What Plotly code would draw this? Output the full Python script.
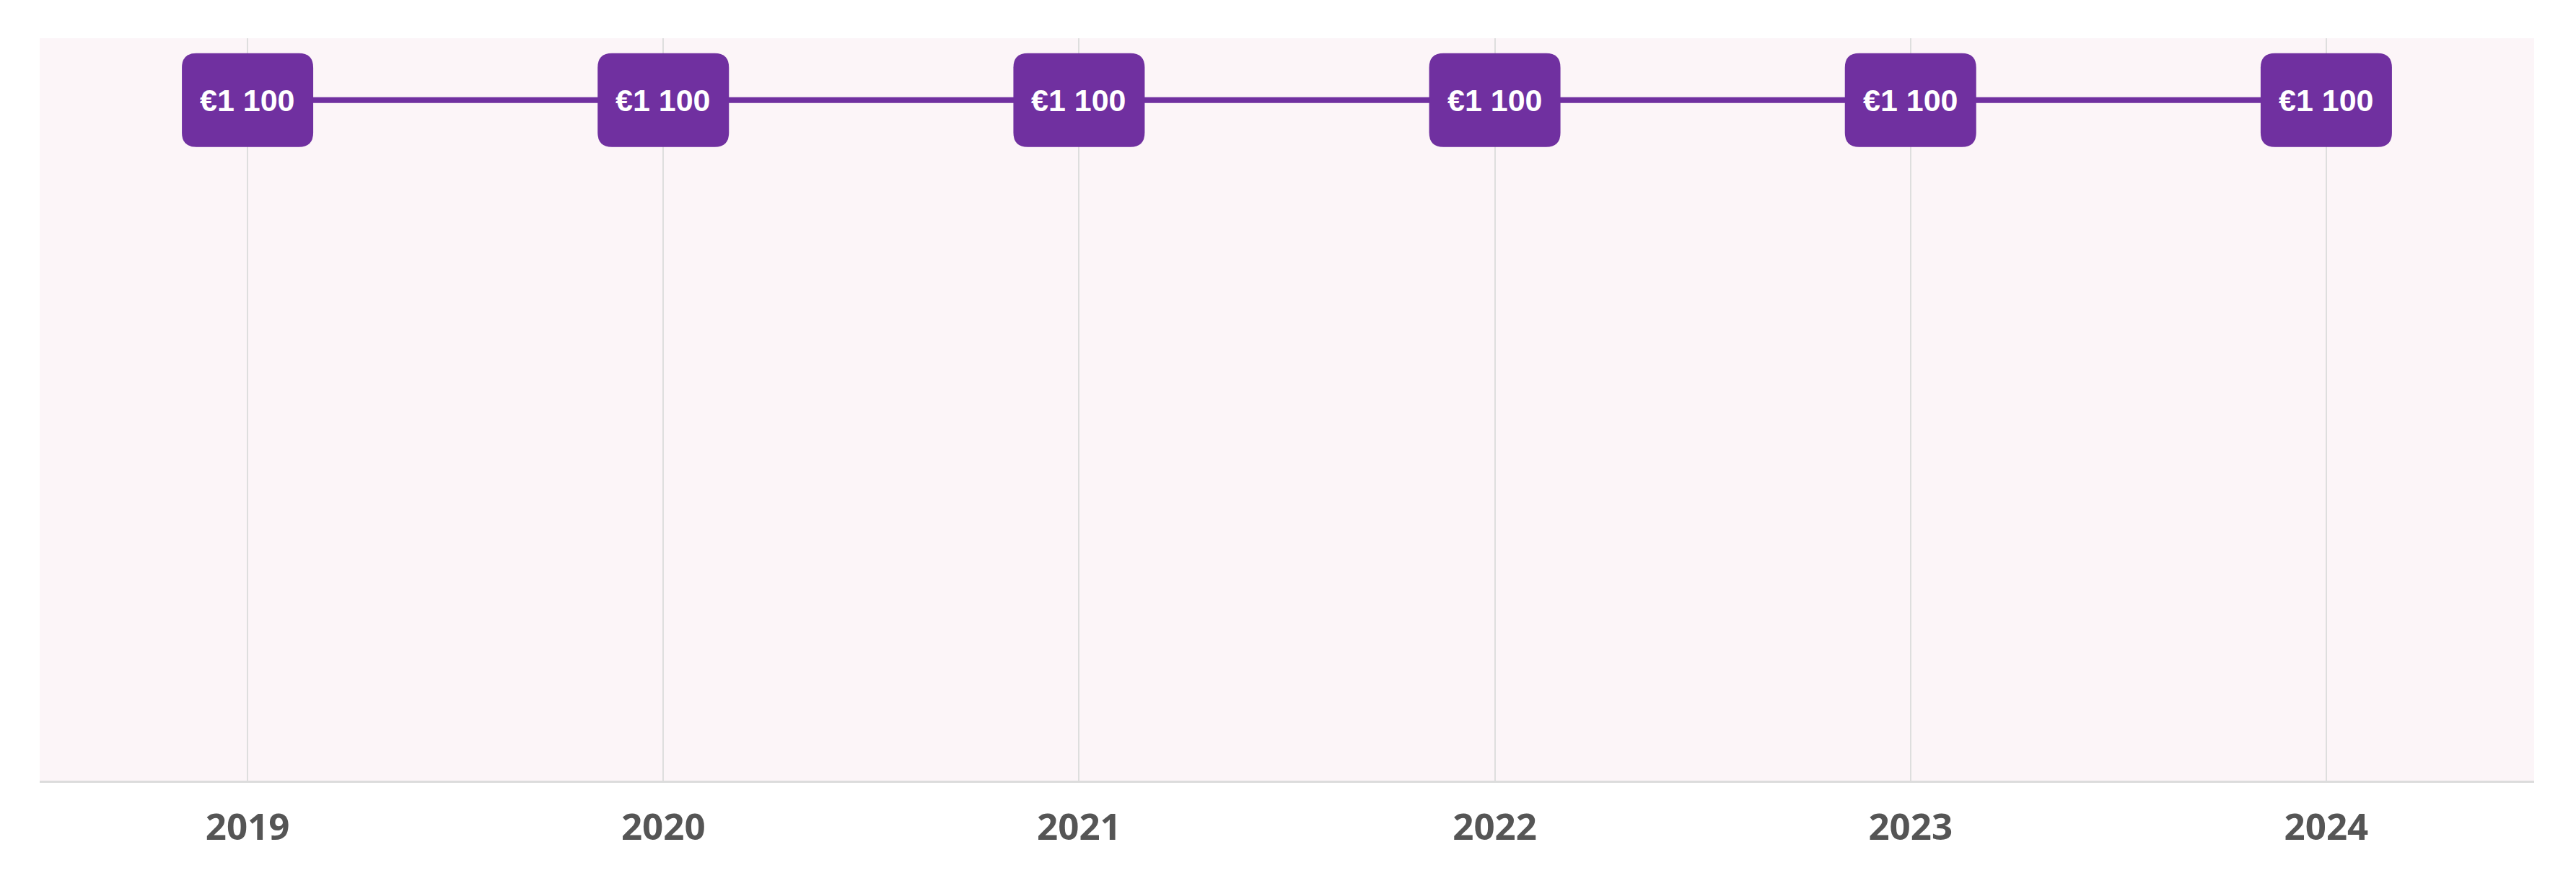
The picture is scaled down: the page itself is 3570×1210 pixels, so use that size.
import plotly.graph_objects as go

years = ["2019", "2020", "2021", "2022", "2023", "2024"]
values = [1100, 1100, 1100, 1100, 1100, 1100]
labels = ["€1 100"] * len(years)

PURPLE = "#7030a0"
BOX_W, BOX_H, R = 182, 130, 20

x_idx = list(range(len(years)))

fig = go.Figure()
fig.add_trace(
    go.Scatter(
        x=x_idx,
        y=values,
        mode="lines",
        line=dict(color=PURPLE, width=8),
        hoverinfo="skip",
        showlegend=False,
    )
)

# rounded label boxes, anchored on the data points, sized in pixels
hw, hh = BOX_W / 2, BOX_H / 2
box_path = (
    f"M {-hw + R},{-hh} L {hw - R},{-hh} Q {hw},{-hh} {hw},{-hh + R} "
    f"L {hw},{hh - R} Q {hw},{hh} {hw - R},{hh} L {-hw + R},{hh} "
    f"Q {-hw},{hh} {-hw},{hh - R} L {-hw},{-hh + R} Q {-hw},{-hh} {-hw + R},{-hh} Z"
)
for xi, v, lbl in zip(x_idx, values, labels):
    fig.add_shape(
        type="path",
        path=box_path,
        xref="x",
        yref="y",
        xsizemode="pixel",
        ysizemode="pixel",
        xanchor=xi,
        yanchor=v,
        fillcolor=PURPLE,
        line=dict(width=0),
        layer="above",
    )
    fig.add_annotation(
        x=xi,
        y=v,
        text=f"<b>{lbl}</b>",
        showarrow=False,
        font=dict(family="Liberation Sans, Arial", size=43, color="white"),
    )

fig.update_xaxes(
    tickmode="array",
    tickvals=x_idx,
    ticktext=years,
    range=[-0.5, 5.5],
    showgrid=True,
    gridcolor="#dedede",
    gridwidth=2,
    showline=True,
    linecolor="#dcdcdc",
    linewidth=3,
    zeroline=False,
    ticks="",
    ticklabelstandoff=18,
    tickfont=dict(family="Open Sans", size=51, color="#555555", weight="bold"),
)
fig.update_yaxes(
    range=[0, 1200],
    showgrid=False,
    zeroline=False,
    showticklabels=False,
    showline=False,
)
# the page body adds an 8px offset, margins allow for it
fig.update_layout(
    width=3570,
    height=1210,
    paper_bgcolor="white",
    plot_bgcolor="#fcf5f8",
    margin=dict(l=47, r=66, t=45, b=136),
    showlegend=False,
)

fig.write_html("out.html")
